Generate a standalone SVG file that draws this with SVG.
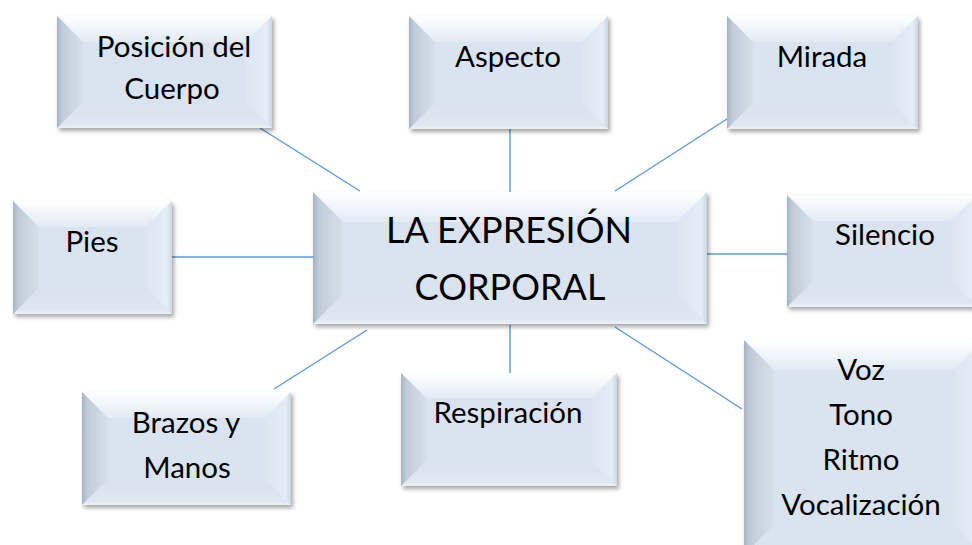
<svg xmlns="http://www.w3.org/2000/svg" width="972" height="545" viewBox="0 0 972 545">
<defs>
<linearGradient id="gT" x1="0" y1="0" x2="0" y2="1"><stop offset="0" stop-color="#ffffff"/><stop offset="0.5" stop-color="#f0f5fa"/><stop offset="1" stop-color="#e2eaf4"/></linearGradient>
<linearGradient id="gB" x1="0" y1="0" x2="0" y2="1"><stop offset="0" stop-color="#d9e3ee"/><stop offset="0.85" stop-color="#dfe7f0"/><stop offset="1" stop-color="#eef2f7"/></linearGradient>
<linearGradient id="gL" x1="0" y1="0" x2="1" y2="0"><stop offset="0" stop-color="#a8b4c1"/><stop offset="0.2" stop-color="#c0ccd8"/><stop offset="1" stop-color="#d6e0eb"/></linearGradient>
<linearGradient id="gR" x1="0" y1="0" x2="1" y2="0"><stop offset="0" stop-color="#dce6f1"/><stop offset="0.8" stop-color="#e5edf6"/><stop offset="1" stop-color="#cdd7e2"/></linearGradient>
<filter id="sh" x="-10%" y="-10%" width="120%" height="130%"><feGaussianBlur stdDeviation="2.2"/></filter>
</defs>
<style>
.sh{fill:#000;opacity:.35;filter:url(#sh)}
.face{fill:#dae4f0}
.t{fill:url(#gT)}
.b{fill:url(#gB)}
.l{fill:url(#gL)}
.r{fill:url(#gR)}
.c line{stroke:#5b9bd5;stroke-width:1.4}
text{font-family:Lato,"Liberation Sans",sans-serif;fill:#000;text-anchor:middle;font-size:29.5px}
.big{font-size:36px}
</style>

<g class="c" id="connectors">
<line x1="260" y1="128" x2="360" y2="191"/>
<line x1="510" y1="129" x2="510" y2="192"/>
<line x1="727" y1="119" x2="615" y2="191"/>
<line x1="172" y1="257" x2="313" y2="257"/>
<line x1="707" y1="254" x2="787" y2="254"/>
<line x1="274" y1="389" x2="367" y2="330"/>
<line x1="510" y1="325" x2="510" y2="373"/>
<line x1="615" y1="327" x2="742" y2="409"/>
</g>

<g id="posicion">
<rect class="sh" x="59" y="19" width="215" height="112"/>
<rect class="face" x="57" y="16" width="215" height="112"/>
<polygon class="t" points="57,16 272,16 246,42 83,42"/>
<polygon class="b" points="57,128 272,128 246,102 83,102"/>
<polygon class="l" points="57,16 83,42 83,102 57,128"/>
<polygon class="r" points="246,42 272,16 272,128 246,102"/>
<text x="174" y="57">Posición del</text>
<text x="172" y="99">Cuerpo</text>
</g>

<g id="aspecto">
<rect class="sh" x="411" y="19" width="199" height="113"/>
<rect class="face" x="409" y="16" width="199" height="113"/>
<polygon class="t" points="409,16 608,16 582,42 435,42"/>
<polygon class="b" points="409,129 608,129 582,103 435,103"/>
<polygon class="l" points="409,16 435,42 435,103 409,129"/>
<polygon class="r" points="582,42 608,16 608,129 582,103"/>
<text x="508" y="67">Aspecto</text>
</g>

<g id="mirada">
<rect class="sh" x="729" y="19" width="191" height="113"/>
<rect class="face" x="727" y="16" width="191" height="113"/>
<polygon class="t" points="727,16 918,16 892,42 753,42"/>
<polygon class="b" points="727,129 918,129 892,103 753,103"/>
<polygon class="l" points="727,16 753,42 753,103 727,129"/>
<polygon class="r" points="892,42 918,16 918,129 892,103"/>
<text x="822" y="67">Mirada</text>
</g>

<g id="pies">
<rect class="sh" x="15" y="204" width="159" height="113"/>
<rect class="face" x="13" y="201" width="159" height="113"/>
<polygon class="t" points="13,201 172,201 146,227 39,227"/>
<polygon class="b" points="13,314 172,314 146,288 39,288"/>
<polygon class="l" points="13,201 39,227 39,288 13,314"/>
<polygon class="r" points="146,227 172,201 172,314 146,288"/>
<text x="92" y="252">Pies</text>
</g>

<g id="centro">
<rect class="sh" x="315" y="195" width="394" height="132"/>
<rect class="face" x="313" y="192" width="394" height="132"/>
<polygon class="t" points="313,192 707,192 677,222 343,222"/>
<polygon class="b" points="313,324 707,324 677,294 343,294"/>
<polygon class="l" points="313,192 343,222 343,294 313,324"/>
<polygon class="r" points="677,222 707,192 707,324 677,294"/>
<text class="big" x="509" y="243">LA EXPRESIÓN</text>
<text class="big" x="510" y="300">CORPORAL</text>
</g>

<g id="silencio">
<rect class="sh" x="789" y="198" width="190" height="112"/>
<rect class="face" x="787" y="195" width="190" height="112"/>
<polygon class="t" points="787,195 977,195 951,221 813,221"/>
<polygon class="b" points="787,307 977,307 951,281 813,281"/>
<polygon class="l" points="787,195 813,221 813,281 787,307"/>
<polygon class="r" points="951,221 977,195 977,307 951,281"/>
<text x="885" y="245">Silencio</text>
</g>

<g id="brazos">
<rect class="sh" x="84" y="395" width="209" height="113"/>
<rect class="face" x="82" y="392" width="209" height="113"/>
<polygon class="t" points="82,392 291,392 265,418 108,418"/>
<polygon class="b" points="82,505 291,505 265,479 108,479"/>
<polygon class="l" points="82,392 108,418 108,479 82,505"/>
<polygon class="r" points="265,418 291,392 291,505 265,479"/>
<text x="186" y="433">Brazos y</text>
<text x="187" y="478">Manos</text>
</g>

<g id="respiracion">
<rect class="sh" x="403" y="376" width="216" height="113"/>
<rect class="face" x="401" y="373" width="216" height="113"/>
<polygon class="t" points="401,373 617,373 591,399 427,399"/>
<polygon class="b" points="401,486 617,486 591,460 427,460"/>
<polygon class="l" points="401,373 427,399 427,460 401,486"/>
<polygon class="r" points="591,399 617,373 617,486 591,460"/>
<text x="508" y="423">Respiración</text>
</g>

<g id="voz">
<rect class="sh" x="746" y="343" width="240" height="215"/>
<rect class="face" x="744" y="340" width="240" height="215"/>
<polygon class="t" points="744,340 984,340 954,370 774,370"/>
<polygon class="l" points="744,340 774,370 774,525 744,555"/>
<polygon class="r" points="954,370 984,340 984,555 954,525"/>
<text x="861" y="380">Voz</text>
<text x="861" y="425">Tono</text>
<text x="861" y="470">Ritmo</text>
<text x="861" y="515">Vocalización</text>
</g>
</svg>
